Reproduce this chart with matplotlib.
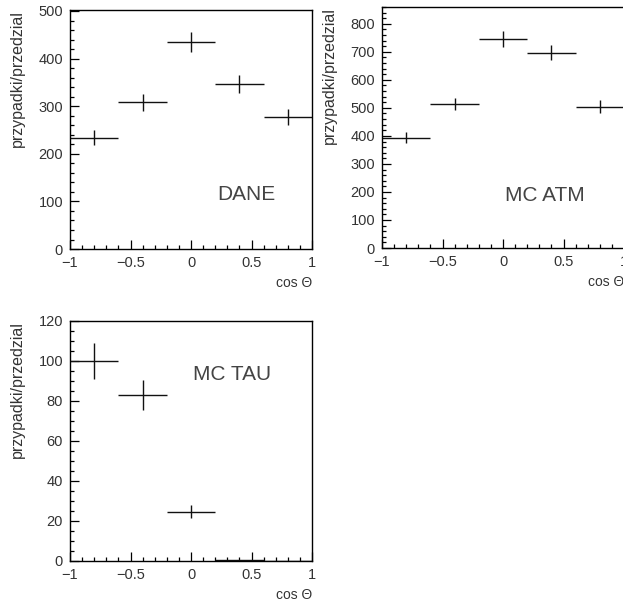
import numpy as np
import matplotlib
matplotlib.use("Agg")
from matplotlib import pyplot as plt
from matplotlib.ticker import MultipleLocator

# bin centres in cos(theta), width 0.4
cos_bins = [-0.8, -0.4, 0.0, 0.4, 0.8]
bin_halfwidth = 0.2

dane = [234, 308, 434, 346, 278]
dane_err = [15.3, 17.5, 20.8, 18.6, 16.7]

mc_atm = [393, 514, 746, 697, 504]
mc_atm_err = [19.8, 22.7, 27.3, 26.4, 22.4]

mc_tau = [100, 83, 24.7, 0.6, 0.0]
mc_tau_err = [8.8, 7.6, 3.4, 0.0, 0.0]

plt.rcParams['font.family'] = ['Liberation Sans', 'DejaVu Sans']
txt_col = '#333333'

fig = plt.figure(figsize=(6.23, 6.04), dpi=100)


def panel(rect, vals, errs, ymax, ymaj, ymin, label, lab_xy):
    ax = fig.add_axes(rect)
    ax.errorbar(cos_bins, vals, xerr=bin_halfwidth, yerr=errs, fmt='none',
                ecolor='#111111', elinewidth=1.0, capsize=0)
    ax.set_xlim(-1, 1)
    ax.set_ylim(0, ymax)
    ax.xaxis.set_major_locator(MultipleLocator(0.5))
    ax.xaxis.set_minor_locator(MultipleLocator(0.1))
    ax.yaxis.set_major_locator(MultipleLocator(ymaj))
    ax.yaxis.set_minor_locator(MultipleLocator(ymin))
    ax.set_xticks([-1, -0.5, 0, 0.5, 1])
    ax.set_xticklabels(['\u22121', '\u22120.5', '0', '0.5', '1'])
    ax.tick_params(which='both', direction='in', top=False, right=False,
                   labelsize=10.5, colors='black', labelcolor=txt_col, width=0.9)
    ax.tick_params(which='major', length=6.5, pad=5)
    ax.tick_params(which='minor', length=3.2)
    for s in ax.spines.values():
        s.set_linewidth(1.0)
    # ROOT style: axis title sits at the top of the y axis
    ax.set_ylabel('przypadki/przedzial', fontsize=11.5, color=txt_col,
                  ha='right', y=1.0)
    ax.yaxis.set_label_coords(-0.185, 1.0)
    ax.text(1.0, -0.142, 'cos \u0398', transform=ax.transAxes, ha='right',
            va='center', fontsize=10, color=txt_col)
    ax.text(lab_xy[0], lab_xy[1], label, transform=ax.transData,
            fontsize=15, color='#444444', ha='left', va='center')
    return ax


panel([0.1124, 0.5877, 0.3884, 0.3957], dane, dane_err, 502, 100, 20,
      'DANE', (0.22, 114))
panel([0.6132, 0.5894, 0.3884, 0.3990], mc_atm, mc_atm_err, 860, 100, 20,
      'MC ATM', (0.015, 189))
panel([0.1124, 0.0712, 0.3884, 0.3974], mc_tau, mc_tau_err, 120, 20, 5,
      'MC TAU', (0.015, 93))

fig.savefig('out.png', dpi=100)
